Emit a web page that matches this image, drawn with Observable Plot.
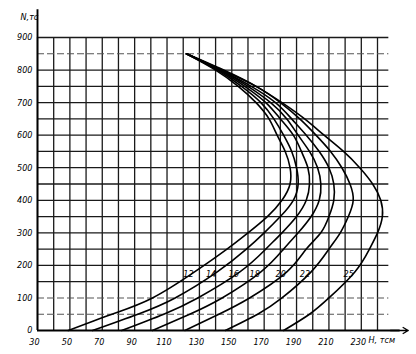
<!DOCTYPE html>
<html><head><meta charset="utf-8">
<script src="https://cdn.jsdelivr.net/npm/d3@7"></script>
<script src="https://cdn.jsdelivr.net/npm/@observablehq/plot@0.6"></script>
<style>
body{margin:0;background:#fff;}
svg{display:block;}
</style></head><body><div id="chart"></div>
<script>
const nLevels = [0, 50, 100, 180, 250, 300, 350, 400, 450, 500, 550, 600, 650, 700, 750, 800, 850];
const curve12 = [49, 76, 101, 127, 147, 160, 172, 181, 186, 186, 183, 178, 173, 165, 154, 140, 122];
const curve14 = [64, 92, 115, 141, 159, 170, 180, 188, 191, 190, 187, 182, 176, 168, 156, 141, 122];
const curve16 = [82, 108, 129, 155, 171, 181, 190, 196, 198, 197, 193, 188, 180, 171, 158, 142, 122];
const curve18 = [101, 124, 144, 168, 182, 191, 199, 204, 205, 203, 198, 191, 184, 174, 160, 143, 122];
const curve20 = [121, 142, 161, 184, 196, 205, 210, 213, 213, 210, 204, 196, 187, 177, 162, 143, 122];
const curve22 = [146, 166, 181, 199, 210, 217, 222, 225, 223, 218, 211, 202, 192, 180, 165, 144, 122];
const curve25 = [182, 198, 210, 226, 235, 240, 243, 242, 237, 229, 219, 207, 195, 181, 165, 145, 122];
const seriesNames = ["12", "14", "16", "18", "20", "22", "25"];
const labelLevel = 180;

const xTicks = [30, 50, 70, 90, 110, 130, 150, 170, 190, 210, 230];
const yTicks = [0, 100, 200, 300, 400, 500, 600, 700, 800, 900];
const vGrid = [30, 40, 50, 60, 70, 80, 90, 100, 110, 120, 130, 140, 150, 160, 170, 180, 190, 200, 210, 220, 230, 240];
const hGridSolid = [150, 200, 250, 300, 350, 400, 450, 500, 550, 600, 650, 700, 750, 800, 900];
const hGridDashed = [50, 100, 850];
const xTitle = "H, тсм";
const yTitle = "N,тс";

const allCurves = [curve12, curve14, curve16, curve18, curve20, curve22, curve25];
const rows = [];
allCurves.forEach((c, i) => c.forEach((h, j) => rows.push({s: seriesNames[i], H: h, N: nLevels[j]})));
const labelRows = rows.filter(d => d.N === labelLevel);

const font = "'DejaVu Sans Condensed', 'Liberation Sans Narrow', 'Liberation Sans', sans-serif";

const chart = Plot.plot({
  width: 416,
  height: 354,
  marginLeft: 37,
  marginRight: 39,
  marginTop: 37,
  marginBottom: 24,
  style: {fontFamily: font, fontStyle: "italic", fontSize: "9px", background: "#fff", color: "#111"},
  x: {domain: [30, 240]},
  y: {domain: [0, 900]},
  marks: [
    Plot.ruleX(vGrid, {y1: 0, y2: 900, stroke: "#1a1a1a", strokeWidth: 1.3}),
    Plot.ruleY(hGridSolid, {x1: 30, x2: 247, stroke: "#1a1a1a", strokeWidth: 1.3}),
    Plot.ruleY(hGridDashed, {x1: 30, x2: 247, stroke: "#555", strokeWidth: 1.1, strokeDasharray: "7,3"}),
    Plot.ruleY([0], {x1: 30, x2: 254, stroke: "#000", strokeWidth: 1.8}),
    Plot.arrow([0], {x1: 248, y1: 0, x2: 259, y2: 0, headLength: 7, stroke: "#000", strokeWidth: 1.3}),
    Plot.ruleX([30], {y1: 0, y2: 985, stroke: "#000", strokeWidth: 1.9}),
    Plot.axisX(xTicks, {tickSize: 0, tickPadding: 8, dx: -3, label: null, fill: "#000"}),
    Plot.axisY(yTicks, {tickSize: 0, tickPadding: 5, label: null, fill: "#000"}),
    Plot.line(rows, {x: "H", y: "N", z: "s", curve: "natural", stroke: "#000", strokeWidth: 1.6}),
    Plot.text(labelRows, {x: "H", y: "N", text: "s", textAnchor: "end", dx: -1, dy: 2, fill: "#000", fontSize: 9}),
    Plot.text([yTitle], {frameAnchor: "top-left", dx: -17, dy: -24, fill: "#000", fontSize: 9}),
    Plot.text([xTitle], {frameAnchor: "bottom-right", textAnchor: "start", dx: -9, dy: 12, fill: "#000", fontSize: 9})
  ]
});
document.getElementById("chart").appendChild(chart);
</script>
</body></html>
